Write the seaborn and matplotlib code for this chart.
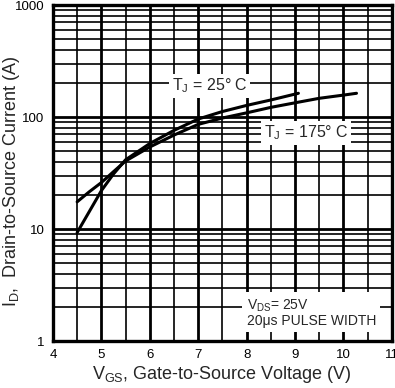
import numpy as np
import pandas as pd
import matplotlib
matplotlib.use('Agg')
import matplotlib.pyplot as plt
import matplotlib.ticker as mticker
import seaborn as sns

# transfer characteristics
vgs_25 = [4.5, 4.75, 5.0, 5.25, 5.5, 6.0, 6.5, 7.0, 7.5, 8.0, 8.5, 9.07]
id_25 = [9.3, 14.3, 22, 31, 41.5, 58, 76, 96, 112, 127, 142, 163]
vgs_175 = [4.5, 4.75, 5.0, 5.25, 5.5, 6.0, 6.5, 7.0, 7.5, 8.0, 8.5, 9.0, 9.5, 10.0, 10.27]
id_175 = [17.5, 21.5, 26, 32.5, 40.5, 54, 69, 86, 98, 109, 122, 134, 147, 157, 163]

x_ticks = [4, 5, 6, 7, 8, 9, 10, 11]
y_ticks = [1, 10, 100, 1000]

df = pd.concat([
    pd.DataFrame({'vgs': vgs_25, 'id': id_25, 'tj': '25'}),
    pd.DataFrame({'vgs': vgs_175, 'id': id_175, 'tj': '175'}),
])

sns.set_style('white')
plt.rcParams['font.family'] = ['Liberation Sans', 'DejaVu Sans']
plt.rcParams['mathtext.fontset'] = 'custom'
plt.rcParams['mathtext.rm'] = 'Liberation Sans'

fig = plt.figure(figsize=(3.95, 3.88), dpi=100)
ax = fig.add_axes([0.134, 0.121, 0.858, 0.866])

sns.lineplot(data=df, x='vgs', y='id', hue='tj', units='tj', estimator=None,
             sort=False, palette=['black', 'black'], linewidth=2.2, legend=False, ax=ax)

ax.set_yscale('log')
ax.set_xlim(4, 11)
ax.set_ylim(1, 1000)
ax.set_xticks(x_ticks)
ax.set_xticklabels([str(v) for v in x_ticks])
ax.set_yticks(y_ticks)
ax.set_yticklabels([str(v) for v in y_ticks])
ax.xaxis.set_minor_locator(mticker.MultipleLocator(0.5))
ax.yaxis.set_minor_locator(mticker.LogLocator(base=10, subs=np.arange(2, 10)))
ax.yaxis.set_minor_formatter(mticker.NullFormatter())
ax.tick_params(which='both', length=0, labelsize=9.5, colors='black', pad=6)

ax.grid(which='major', color='black', linewidth=2.0)
ax.grid(which='minor', color='black', linewidth=1.2)
ax.set_axisbelow(True)
for s in ax.spines.values():
    s.set_visible(True)
    s.set_color('black')
    s.set_linewidth(2.4)

ax.set_xlabel('V$_\\mathregular{GS}$, Gate-to-Source Voltage (V)', fontsize=13, labelpad=2)
ax.set_ylabel('I$_\\mathregular{D}$,  Drain-to-Source Current (A)', fontsize=13)
ax.yaxis.set_label_coords(-0.092, 0.475)

box = dict(facecolor='white', edgecolor='none', pad=2)
ax.text(6.45, 190, 'T$_\\mathregular{J}$ = 25° C', fontsize=11.5, va='center', ha='left', bbox=box)
ax.text(8.35, 72, 'T$_\\mathregular{J}$ = 175° C', fontsize=11.5, va='center', ha='left', bbox=box)
ax.text(8.0, 1.3, 'V$_\\mathregular{DS}$= 25V\n20\u03bcs PULSE WIDTH', fontsize=10,
        va='bottom', ha='left', linespacing=1.05,
        bbox=dict(facecolor='white', edgecolor='none', pad=3))

fig.savefig('out.png', dpi=100)
